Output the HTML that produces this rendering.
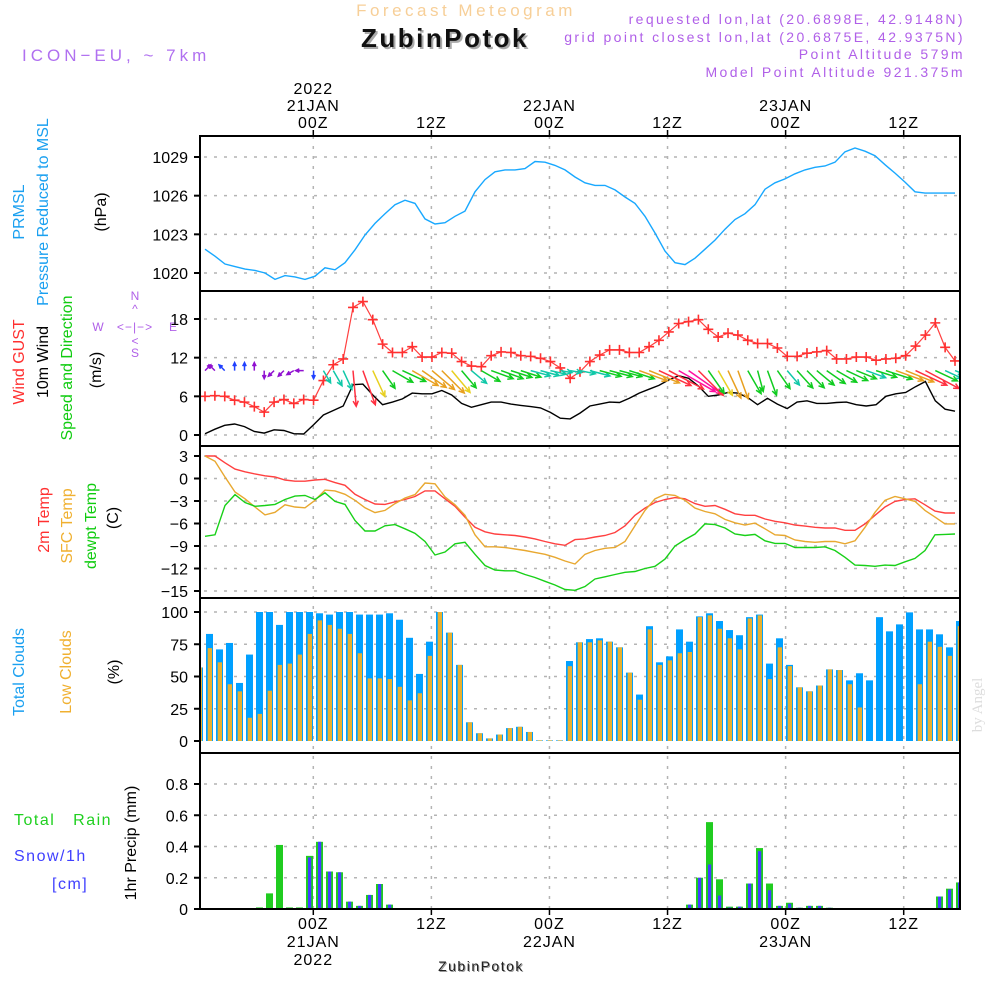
<!DOCTYPE html>
<html><head><meta charset="utf-8"><style>
html,body{margin:0;padding:0;background:#fff;}
svg{display:block;font-family:"Liberation Sans",sans-serif;}
</style></head><body>
<svg id="chart" width="1000" height="1000" viewBox="0 0 1000 1000" xmlns="http://www.w3.org/2000/svg">
<rect x="0" y="0" width="1000" height="1000" fill="#fff"/>
<g>
<text x="466" y="16" text-anchor="middle" font-size="17" fill="#f7cf98" letter-spacing="3.5">Forecast Meteogram</text>
<text x="447" y="49" text-anchor="middle" font-size="26" font-weight="bold" fill="#aaa" letter-spacing="2.5">ZubinPotok</text>
<text x="445" y="47" text-anchor="middle" font-size="26" font-weight="bold" fill="#111" letter-spacing="2.5">ZubinPotok</text>
<text x="22" y="61" font-size="17" fill="#b070f0" letter-spacing="4">ICON−EU, ~ 7km</text>
<text x="965" y="24" text-anchor="end" font-size="14" fill="#b060e8" letter-spacing="2.4">requested lon,lat (20.6898E, 42.9148N)</text>
<text x="965" y="42" text-anchor="end" font-size="14" fill="#b060e8" letter-spacing="2.4">grid point closest lon,lat (20.6875E, 42.9375N)</text>
<text x="965" y="59" text-anchor="end" font-size="14" fill="#b060e8" letter-spacing="2.4">Point Altitude 579m</text>
<text x="965" y="77" text-anchor="end" font-size="14" fill="#b060e8" letter-spacing="2.4">Model Point Altitude 921.375m</text>
</g>
<g font-size="16">
<text transform="translate(24,212) rotate(-90)" text-anchor="middle" fill="#1aa0f0">PRMSL</text>
<text transform="translate(48,212) rotate(-90)" text-anchor="middle" fill="#1aa0f0">Pressure Reduced to MSL</text>
<text transform="translate(106,212) rotate(-90)" text-anchor="middle" fill="#000">(hPa)</text>
<text transform="translate(24,362) rotate(-90)" text-anchor="middle" fill="#ff3030">Wind GUST</text>
<text transform="translate(48,362) rotate(-90)" text-anchor="middle" fill="#000">10m Wind</text>
<text transform="translate(72,368) rotate(-90)" text-anchor="middle" fill="#10cc10">Speed and Direction</text>
<text transform="translate(101,370) rotate(-90)" text-anchor="middle" fill="#000">(m/s)</text>
<text transform="translate(49,520) rotate(-90)" text-anchor="middle" fill="#ff3030">2m Temp</text>
<text transform="translate(72,526) rotate(-90)" text-anchor="middle" fill="#f0b030">SFC Temp</text>
<text transform="translate(96,526) rotate(-90)" text-anchor="middle" fill="#10cc10">dewpt Temp</text>
<text transform="translate(118,518) rotate(-90)" text-anchor="middle" fill="#000">(C)</text>
<text transform="translate(24,672) rotate(-90)" text-anchor="middle" fill="#1aa0f0">Total Clouds</text>
<text transform="translate(71,672) rotate(-90)" text-anchor="middle" fill="#f0b030">Low Clouds</text>
<text transform="translate(119,672) rotate(-90)" text-anchor="middle" fill="#000">(%)</text>
<text x="14" y="825" fill="#20d020" letter-spacing="1.5">Total&#160;&#160;&#160;Rain</text>
<text x="14" y="861" fill="#4040ff" letter-spacing="1.5">Snow/1h</text>
<text x="52" y="889" fill="#4040ff" letter-spacing="1.5">[cm]</text>
<text transform="translate(136,843) rotate(-90)" text-anchor="middle" fill="#000">1hr Precip (mm)</text>
</g>
<g fill="#b060e8" font-size="12" stroke="none">
<text x="135" y="300" text-anchor="middle">N</text>
<text x="135" y="313" text-anchor="middle">^</text>
<text x="98" y="331" text-anchor="middle">W</text>
<text x="135" y="331" text-anchor="middle" letter-spacing="1">&lt;−|−&gt;</text>
<text x="173" y="331" text-anchor="middle">E</text>
<text x="135" y="345" text-anchor="middle">&lt;</text>
<text x="135" y="357" text-anchor="middle">S</text>
</g>
<text transform="translate(982,705) rotate(-90)" text-anchor="middle" font-size="15" fill="#ddd" font-family="Liberation Serif, serif">by Angel</text>
<g id="plots"></g>
</svg>
<script>
// ---- data ----
var presVals=[1021.85,1021.3,1020.7,1020.5,1020.3,1020.2,1020,1019.5,1019.8,1019.7,
1019.5,1019.75,1020.4,1020.25,1020.8,1021.8,1022.95,1023.85,1024.6,1025.3,
1025.65,1025.4,1024.2,1023.8,1023.9,1024.4,1024.8,1026.3,1027.25,1027.85,
1028,1028,1028.1,1028.65,1028.6,1028.35,1028,1027.45,1027,1026.8,
1026.8,1026.45,1025.9,1025.4,1024.4,1023.1,1021.7,1020.8,1020.65,1021.15,
1021.85,1022.55,1023.4,1024.15,1024.6,1025.3,1026.5,1027,1027.3,1027.7,
1028,1028.2,1028.3,1028.6,1029.4,1029.7,1029.45,1029.1,1028.4,1027.75,
1027.05,1026.3,1026.2,1026.2,1026.2,1026.2];
var gustVals=[6,6.1,6,5.4,5.1,4.4,3.55,5.1,5.5,4.9,
5.5,5.4,8.45,10.9,11.8,19.8,20.7,17.9,14.1,12.8,
12.8,13.7,12.1,12.1,12.8,12.7,11.4,10.7,10.6,12.3,
12.9,12.8,12.3,12.2,11.9,11.4,10.4,8.8,9.8,11.4,
12.4,13.2,13.2,12.8,12.8,13.7,14.7,16,17.3,17.6,
17.9,16.4,15.2,15.8,15.5,14.7,14.2,14.2,13.5,12.2,
12.2,12.7,12.9,13.1,11.8,11.8,12.1,12.1,11.6,11.8,
11.9,12.3,13.8,15.5,17.4,13.6,11.5];
var windVals=[0.2,0.9,1.5,1.7,1.3,0.55,0.3,0.8,0.7,0.2,
0.15,1.6,3.1,3.8,4.5,7.8,7.9,6.2,4.7,5.1,
5.6,6.5,6.4,6.4,6.9,6.2,4.9,4.3,4.7,5.1,
5.1,4.8,4.6,4.4,4.2,3.5,2.6,2.5,3.4,4.5,
4.8,5.1,5.05,5.7,6.5,7.1,7.7,8.55,9.2,8.8,
7.6,6,6.2,6.6,6.5,5.8,4.7,5.7,4.8,4.1,
5.1,5.3,4.9,4.9,5.05,5.1,4.7,4.5,4.7,6,
6.4,6.6,7.5,8.3,5.3,4,3.7];
var windDir=[225,135,135,180,180,180,0,45,45,60,
90,0,330,330,335,355,340,335,325,300,
295,300,305,310,315,320,320,310,300,290,
290,288,288,285,285,283,280,280,282,285,
285,285,285,288,290,292,295,298,300,305,
315,325,330,335,340,330,345,340,325,320,
318,315,310,305,300,295,292,290,288,288,
290,292,295,298,295,295,292];
var t2mVals=[3,3,2.1,1.25,0.9,0.6,0.36,0.2,-0.2,-0.36,
-0.36,-0.2,-0.1,-0.55,-0.9,-2.1,-2.8,-3.4,-3.45,-3.1,
-2.8,-2.4,-1.65,-1.65,-2.7,-3.7,-5.15,-6.5,-7.1,-7.4,
-7.5,-7.6,-7.8,-8.05,-8.4,-8.7,-8.9,-8.15,-8.05,-7.8,
-7.6,-7.2,-6.3,-4.9,-3.95,-3.2,-2.8,-2.55,-2.7,-3.35,
-3.7,-3.6,-4.1,-4.7,-4.9,-4.9,-5.4,-5.7,-5.9,-6.2,
-6.35,-6.5,-6.6,-6.6,-6.9,-6.9,-6.05,-4.9,-3.8,-3.05,
-2.8,-2.7,-3.5,-4.35,-4.6,-4.6];
var tsfcVals=[3,2.3,0.2,-1.8,-2.7,-3.8,-4.85,-4.5,-3.5,-3.8,
-3.9,-2.9,-1.55,-1.65,-2.1,-2.9,-3.9,-4.55,-4.25,-3.35,
-2.6,-2.15,-0.6,-0.7,-2.45,-3.5,-4.9,-7.5,-9.1,-9.1,
-9.2,-9.4,-9.6,-9.85,-10.1,-10.5,-11,-11.4,-10.1,-9.6,
-9.3,-9.2,-8.4,-6.3,-4.25,-2.7,-2.1,-2.25,-2.9,-3.95,
-4.4,-4.7,-5.45,-5.9,-6.2,-5.95,-6.7,-7.5,-7.6,-8.2,
-8.4,-8.5,-8.4,-8.4,-8.7,-8.3,-6.5,-4.5,-2.9,-2.4,
-2.7,-3.05,-4.25,-5.15,-6.05,-6.05];
var tdewVals=[-7.7,-7.5,-3.6,-2.15,-3.2,-3.7,-3.6,-3.45,-2.8,-2.35,
-2.25,-2.8,-1.9,-3.05,-3.45,-5.6,-7,-7,-6.3,-6.15,
-6.7,-7.3,-8.4,-10.2,-9.8,-8.7,-8.5,-10.1,-11.6,-12.2,
-12.3,-12.3,-12.8,-13.2,-13.7,-14.2,-14.8,-14.9,-14.4,-13.4,
-13.1,-12.8,-12.5,-12.4,-12,-11.7,-10.75,-9,-8.15,-7.4,
-6.05,-6.15,-6.6,-7.4,-7.6,-7.45,-8.3,-8.65,-8.65,-9.2,
-9.2,-9.2,-9.1,-9.6,-10.5,-11.55,-11.6,-11.7,-11.55,-11.6,
-11.1,-10.65,-9.6,-7.5,-7.45,-7.4];
var totalCloud=[57,83,71,76,45,67,100,100,90,100,
100,100,99,98,100,100,98,98,98,99,
94,80,52,77,100,84,59,14.5,6,2,
5,10,11,7,0.5,0.5,0.5,62,76.5,79,
79.6,77,72.6,53,36,89,61,65.6,86.5,77,
96.6,99,93,86,82,96,98,60,79.6,59,
41.6,38.5,43,55.5,55,47,52.5,47,96,85,
90.4,99.7,86.5,86.5,82.7,72.6,93];
var lowCloud=[57,72,61,44,38.5,18,21,39,59,60,
67,83,93.5,90,87,83,68,48.5,48.5,48,
42,31.5,37,66,100,84,59,14.5,6,2,
5,10,11,7,0.5,0.5,0.5,58,76.5,76.5,
78,77,72.6,53,32,86.5,59,62.5,68,69,
96,97.4,87,79.6,71,95,97.4,48,72.6,58,
41.6,38.5,43,55.5,55,44,26,0,0,0,
0,0,44,77,73,66,89];
var rainVals=[0,0,0,0,0,0,0.01,0.1,0.41,0.01,
0.01,0.34,0.43,0.24,0.235,0.047,0.02,0.09,0.16,0.028,
0.004,0,0,0,0,0,0,0,0,0,
0,0,0,0,0,0,0,0,0,0,
0,0,0,0,0,0,0,0,0,0.028,
0.2,0.556,0.19,0.015,0.015,0.163,0.39,0.163,0.02,0.04,
0.008,0.02,0.02,0.008,0.004,0,0,0,0,0,
0,0,0,0,0.08,0.13,0.17];
var snowVals=[0,0,0,0,0,0,0,0,0,0,
0,0.33,0.43,0.24,0.235,0.047,0.02,0.09,0.16,0.028,
0.004,0,0,0,0,0,0,0,0,0,
0,0,0,0,0,0,0,0,0,0,
0,0,0,0,0,0,0,0,0,0.028,
0.2,0.285,0.086,0.01,0.015,0.163,0.37,0.12,0.02,0.034,
0.008,0.02,0.02,0.008,0.004,0,0,0,0,0,
0,0,0,0.004,0.08,0.125,0.17];
var presTicks=[1029,1026,1023,1020];
var windTicks=[18,12,6,0];
var tempTicks=[3,0,-3,-6,-9,-12,-15];
var cloudTicks=[100,75,50,25,0];
var precipTicks=["0.8","0.6","0.4","0.2","0"];
var timeTickHours=[0,12,24,36,48,60];
var timeTickLabels=["00Z","12Z","00Z","12Z","00Z","12Z"];
var dateLabels=["21JAN","","22JAN","","23JAN",""];

// ---- layout ----
var NS="http://www.w3.org/2000/svg";
var root=document.getElementById('plots');
var X0=200,X1=960;
function el(tag,attrs,parent){var e=document.createElementNS(NS,tag);for(var k in attrs)e.setAttribute(k,attrs[k]);(parent||root).appendChild(e);return e;}
function timeX(h){return 313.3+h*9.84;}
function lineX(i,n){return 205+i*750/(n-1);}
function barX(k){return 199.5+k*10;}
function lin(v0,y0,v1,y1){return function(v){return y0+(v-v0)*(y1-y0)/(v1-v0);};}
var yPres=lin(1029,157,1020,273);
var yWind=lin(18,319,0,435);
var yTemp=lin(3,456,-15,591);
var yCloud=lin(100,612,0,741);
var yPrec=lin(0.8,784,0,909);
var panels=[[136,291],[291,446],[446,598],[598,753],[753,909]];

var clip=el('clipPath',{id:'pc'});
el('rect',{x:X0,y:130,width:X1-X0,height:790},clip);

// gridlines
var grid=el('g',{});


function hgrid(y){var l=el('line',{x1:X0+4,x2:X1,y1:y,y2:y,stroke:'#b4b4b4','stroke-width':1.5,'stroke-dasharray':'3,7'},grid);}
presTicks.forEach(function(v){hgrid(yPres(v));});
windTicks.forEach(function(v){hgrid(yWind(v));});
tempTicks.forEach(function(v){hgrid(yTemp(v));});
cloudTicks.forEach(function(v){if(v>0)hgrid(yCloud(v));});
precipTicks.forEach(function(v){if(+v>0)hgrid(yPrec(+v));});
timeTickHours.forEach(function(h){
  var l=el('line',{x1:timeX(h),x2:timeX(h),y1:136,y2:909,stroke:'#b4b4b4','stroke-width':1.5,'stroke-dasharray':'3,7'},grid);
  
  
});

// y tick labels
function yLabels(ticks,fn,name){
  ticks.forEach(function(v){
    var y=fn(+v);
    var t=el('text',{x:188,y:y+6,'text-anchor':'end','font-size':16,fill:'#000'});
    t.textContent=(typeof v==='number'&&v<0)?'\u2212'+Math.abs(v):String(v);
    
    
    el('line',{x1:X0-6,x2:X0,y1:y,y2:y,stroke:'#000','stroke-width':2});
  });
}
yLabels(presTicks,yPres,'pressure');
yLabels(windTicks,yWind,'wind');
yLabels(tempTicks,yTemp,'temp');
yLabels(cloudTicks,yCloud,'cloud');
yLabels(precipTicks,yPrec,'precip');

// clouds
var cg=el('g',{'clip-path':'url(#pc)'});


totalCloud.forEach(function(v,k){
  var c=barX(k),y=yCloud(v);
  var r=el('rect',{x:c-3.5,y:y,width:7,height:yCloud(0)-y,fill:'#00a0ff'},cg);
  
  
});
lowCloud.forEach(function(v,k){
  var c=barX(k),y=yCloud(v);
  if(v<=0)return;
  var r=el('rect',{x:c-1.8,y:y,width:4.3,height:yCloud(0)-y,fill:'#e8b030'},cg);
  
  
});

// precip
var pg=el('g',{'clip-path':'url(#pc)'});


rainVals.forEach(function(v,k){
  if(v<=0)return;
  var c=barX(k),y=yPrec(v);
  var r=el('rect',{x:c-3.5,y:y,width:7,height:Math.max(1,yPrec(0)-y),fill:'#20cc20'},pg);
  
  
});
snowVals.forEach(function(v,k){
  if(v<=0)return;
  var c=barX(k),y=yPrec(v);
  var r=el('rect',{x:c-1.5,y:y,width:3.2,height:Math.max(1,yPrec(0)-y),fill:'#4040ff'},pg);
  
  
});

// lines
function path(vals,fn,color,name,w){
  var d='';
  vals.forEach(function(v,i){d+=(i?'L':'M')+lineX(i,vals.length).toFixed(1)+','+fn(v).toFixed(1);});
  var p=el('path',{d:d,fill:'none',stroke:color,'stroke-width':w||1.4});
  
  
}
path(presVals,yPres,'#18a8ff','pressure-line');
path(t2mVals,yTemp,'#ff4040','t2m-line');
path(tsfcVals,yTemp,'#e8a830','tsfc-line');
path(tdewVals,yTemp,'#18d018','tdew-line');
path(windVals,yWind,'#000','wind-speed-line');
path(gustVals,yWind,'#ff4040','gust-line',1.2);
gustVals.forEach(function(v,i){
  var x=lineX(i,gustVals.length),y=yWind(v);
  var m=el('path',{d:'M'+(x-5)+','+y+'h10M'+x+','+(y-5)+'v10',stroke:'#ff3030','stroke-width':1.6});
  
  
});

// wind arrows
function windColor(s){
  if(s<1.2)return '#9010d0';
  if(s<2.5)return '#2040ff';
  if(s<4.6)return '#10c8a8';
  if(s<6.1)return '#10cc20';
  if(s<6.3)return '#e8d020';
  if(s<7.2)return '#e8a020';
  if(s<8.6)return '#ff3040';
  return '#ff10a0';
}
var wg=el('g',{'clip-path':'url(#pc)'});


var wy=yWind(10);
windVals.forEach(function(s,i){
  var x=lineX(i,windVals.length);
  var a=windDir[i]*Math.PI/180;
  var dx=-Math.sin(a),dy=Math.cos(a);
  var len=Math.max(8,s*4.6);
  var ex=x+dx*len,ey=wy+dy*len;
  var hl=Math.min(6,len*0.5);
  var ang=Math.atan2(dy,dx);
  var h1x=ex-hl*Math.cos(ang-0.45),h1y=ey-hl*Math.sin(ang-0.45);
  var h2x=ex-hl*Math.cos(ang+0.45),h2y=ey-hl*Math.sin(ang+0.45);
  var p=el('path',{d:'M'+x.toFixed(1)+','+wy.toFixed(1)+'L'+ex.toFixed(1)+','+ey.toFixed(1)+'M'+h1x.toFixed(1)+','+h1y.toFixed(1)+'L'+ex.toFixed(1)+','+ey.toFixed(1)+'L'+h2x.toFixed(1)+','+h2y.toFixed(1),fill:'none',stroke:windColor(s),'stroke-width':1.5},wg);
  
  
});

// frames
panels.forEach(function(p){
  var r=el('rect',{x:X0,y:p[0],width:X1-X0,height:p[1]-p[0],fill:'none',stroke:'#000','stroke-width':2});
  
  
});

// time axis labels
timeTickHours.forEach(function(h,i){
  var x=timeX(h);
  el('line',{x1:x,x2:x,y1:130,y2:136,stroke:'#000','stroke-width':1.5});
  el('line',{x1:x,x2:x,y1:909,y2:915,stroke:'#000','stroke-width':1.5});
  var t=el('text',{x:x,y:128,'text-anchor':'middle','font-size':16,fill:'#000','letter-spacing':1});
  t.textContent=timeTickLabels[i];
  
  
  var b=el('text',{x:x,y:929,'text-anchor':'middle','font-size':16,fill:'#000','letter-spacing':1});
  b.textContent=timeTickLabels[i];
  
  
  if(dateLabels[i]){
    var d1=el('text',{x:x,y:111,'text-anchor':'middle','font-size':16,fill:'#000','letter-spacing':1});
    d1.textContent=dateLabels[i];
    
    
    var d2=el('text',{x:x,y:947,'text-anchor':'middle','font-size':16,fill:'#000','letter-spacing':1});
    d2.textContent=dateLabels[i];
    
    
  }
});
var y1=el('text',{x:timeX(0),y:94,'text-anchor':'middle','font-size':16,fill:'#000','letter-spacing':1});
y1.textContent='2022';


var y2=el('text',{x:timeX(0),y:965,'text-anchor':'middle','font-size':16,fill:'#000','letter-spacing':1});
y2.textContent='2022';


var fs=el('text',{x:482,y:972,'text-anchor':'middle','font-size':14,fill:'#999','letter-spacing':1.5});
fs.textContent='ZubinPotok';


var ft=el('text',{x:481,y:971,'text-anchor':'middle','font-size':14,fill:'#222','letter-spacing':1.5});
ft.textContent='ZubinPotok';


</script>
</body></html>
